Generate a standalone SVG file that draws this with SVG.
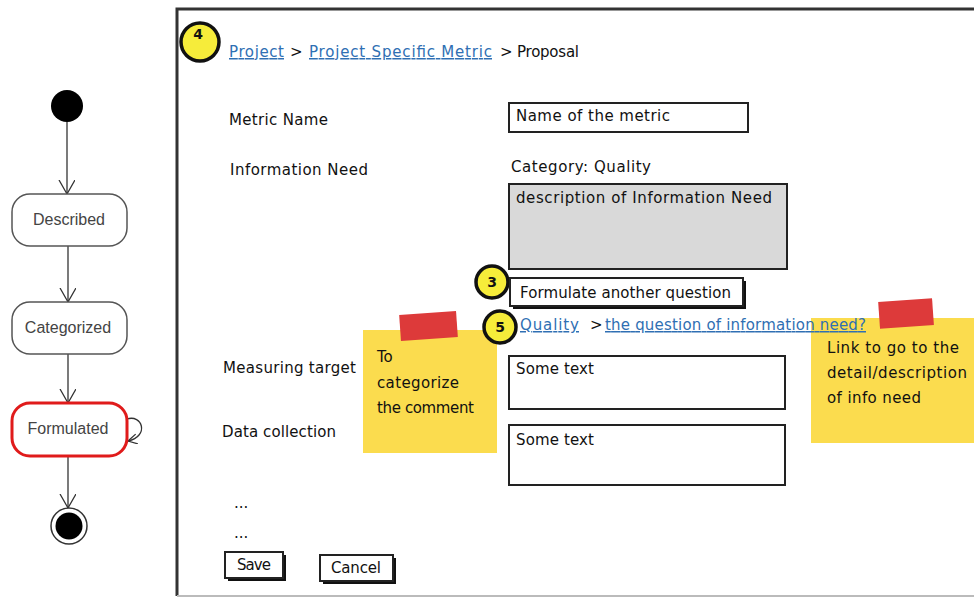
<svg xmlns="http://www.w3.org/2000/svg" width="974" height="598" viewBox="0 0 974 598">
<defs>
<marker id="vhead" markerWidth="18" markerHeight="18" refX="14" refY="8" orient="auto" markerUnits="userSpaceOnUse">
<path d="M0,0 L14,8 L0,16" fill="none" stroke="#333" stroke-width="1.3"/>
</marker>
<marker id="vsmall" markerWidth="12" markerHeight="12" refX="9" refY="5" orient="auto" markerUnits="userSpaceOnUse">
<path d="M0,0 L9,5 L0,10" fill="none" stroke="#333" stroke-width="1.3"/>
</marker>
</defs>
<style>
.state{fill:#fff;stroke:#555;stroke-width:1.5}
.slabel{font-family:"Liberation Sans",Arial,sans-serif;font-size:16px;fill:#444;text-anchor:middle}
.t{font-family:"DejaVu Sans",sans-serif;font-size:15px;fill:#111}
.link{font-family:"DejaVu Sans",sans-serif;font-size:15px;fill:#2f6fb3;text-decoration:underline}
.box{fill:#fff;stroke:#222;stroke-width:2}
.badge{fill:#f6ec3a;stroke:#111;stroke-width:3.5}
.bnum{font-family:"DejaVu Sans",sans-serif;font-size:14px;font-weight:bold;fill:#111;text-anchor:middle}
.sticky{fill:#fbdc4e}
.tape{fill:#dd3a3a}
.conn{stroke:#333;stroke-width:1.3;fill:none}
</style>
<rect width="974" height="598" fill="#fff"/>

<g id="connectors">
<line class="conn" x1="67" y1="122" x2="67" y2="194" marker-end="url(#vhead)"/>
<line class="conn" x1="68" y1="246" x2="68" y2="302" marker-end="url(#vhead)"/>
<line class="conn" x1="68" y1="354" x2="68" y2="403" marker-end="url(#vhead)"/>
<line class="conn" x1="68" y1="456" x2="68" y2="508" marker-end="url(#vhead)"/>
<path class="conn" d="M127,419 C142,414 150,436 128,441" marker-end="url(#vsmall)"/>
</g>

<g id="initial"><circle cx="67" cy="106" r="16" fill="#000"/></g>
<g id="described"><rect class="state" x="12" y="194" width="115" height="52" rx="18"/><text class="slabel" x="69" y="225">Described</text></g>
<g id="categorized"><rect class="state" x="12" y="302" width="115" height="52" rx="18"/><text class="slabel" x="68" y="333">Categorized</text></g>
<g id="formulated"><rect x="12" y="403" width="115" height="53" rx="18" fill="#fff" stroke="#e01b1b" stroke-width="3"/><text class="slabel" x="68" y="434">Formulated</text></g>
<g id="final"><circle cx="69" cy="526" r="18" fill="#fff" stroke="#333" stroke-width="1.5"/><circle cx="69" cy="526" r="13.5" fill="#000"/></g>

<g id="frame">
<path d="M177,596 L177,9 L974,9" fill="none" stroke="#333" stroke-width="3"/>
<line x1="177" y1="596" x2="974" y2="596" stroke="#bbb" stroke-width="2"/>
</g>

<g id="badge4"><circle class="badge" cx="200" cy="42" r="19"/><text class="bnum" x="198" y="39">4</text></g>
<g id="breadcrumb">
<text class="link" x="229" y="57" textLength="55">Project</text>
<text class="t" x="290" y="57">&gt;</text>
<text class="link" x="309" y="57" textLength="183">Project Specific Metric</text>
<text class="t" x="500" y="57">&gt;</text>
<text class="t" x="517" y="57" textLength="62">Proposal</text>
</g>

<g id="metric-name">
<text class="t" x="229" y="125" textLength="99">Metric Name</text>
<rect class="box" x="509" y="103" width="239" height="29"/>
<text class="t" x="516" y="121" textLength="154">Name of the metric</text>
</g>

<g id="info-need">
<text class="t" x="230" y="175" textLength="138">Information Need</text>
<text class="t" x="511" y="172" textLength="140">Category: Quality</text>
<rect x="509" y="184" width="278" height="85" fill="#d9d9d9" stroke="#222" stroke-width="2"/>
<text class="t" x="516" y="203" textLength="256">description of Information Need</text>
</g>

<g id="badge3"><circle class="badge" cx="492" cy="282" r="16"/><text class="bnum" x="492" y="287">3</text></g>
<g id="formulate-btn">
<rect x="513" y="281" width="233" height="28" fill="#111"/>
<rect class="box" x="510" y="278" width="233" height="28"/>
<text class="t" x="520" y="298" textLength="211">Formulate another question</text>
</g>

<g id="note-left">
<rect class="sticky" x="363" y="330" width="134" height="123"/>
<rect class="tape" x="400" y="313" width="57" height="26" transform="rotate(-4 428 326)"/>
<text class="t" x="377" y="362">To</text>
<text class="t" x="377" y="388" textLength="82">categorize</text>
<text class="t" x="377" y="413" textLength="97">the comment</text>
</g>

<g id="note-right">
<rect class="sticky" x="811" y="318" width="163" height="125"/>
<rect class="tape" x="879" y="300" width="54" height="27" transform="rotate(-4 906 313)"/>
<text class="t" x="827" y="353" textLength="132">Link to go to the</text>
<text class="t" x="827" y="378" textLength="140">detail/description</text>
<text class="t" x="827" y="403" textLength="94">of info need</text>
</g>

<g id="badge5"><circle class="badge" cx="500" cy="327" r="16"/><text class="bnum" x="500" y="332">5</text></g>
<g id="question-link">
<text class="link" x="520" y="330" textLength="59">Quality</text>
<text class="t" x="590" y="330">&gt;</text>
<text class="link" x="605" y="330" textLength="261">the question of information need?</text>
</g>

<g id="measuring-target">
<text class="t" x="223" y="373" textLength="133">Measuring target</text>
<rect class="box" x="509" y="356" width="276" height="53"/>
<text class="t" x="516" y="374" textLength="78">Some text</text>
</g>

<g id="data-collection">
<text class="t" x="222" y="437" textLength="114">Data collection</text>
<rect class="box" x="509" y="425" width="276" height="60"/>
<text class="t" x="516" y="445" textLength="78">Some text</text>
</g>

<g id="ellipsis">
<text class="t" x="234" y="508" fill="#555">...</text>
<text class="t" x="234" y="538" fill="#555">...</text>
</g>

<g id="save-btn">
<rect x="228" y="555" width="58" height="26" fill="#111"/>
<rect class="box" x="225" y="552" width="58" height="26"/>
<text class="t" x="254" y="570" text-anchor="middle" textLength="34">Save</text>
</g>
<g id="cancel-btn">
<rect x="323" y="558" width="73" height="26" fill="#111"/>
<rect class="box" x="320" y="555" width="73" height="26"/>
<text class="t" x="356" y="573" text-anchor="middle" textLength="50">Cancel</text>
</g>
</svg>
